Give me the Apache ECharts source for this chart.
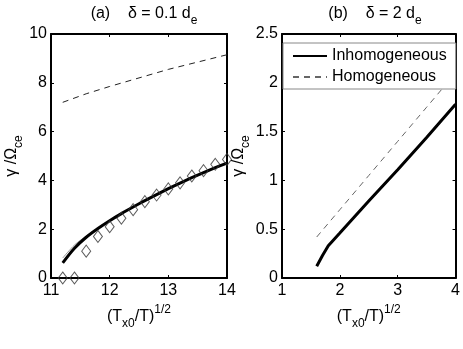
<!DOCTYPE html>
<html><head><meta charset="utf-8">
<script src="https://cdn.jsdelivr.net/npm/echarts@6/dist/echarts.min.js"></script>
<style>html,body{margin:0;padding:0;background:#fff}#c{width:463px;height:349px}</style>
</head><body><div id="c"></div>
<script>
// Panel (a): delta = 0.1 d_e
const xA = [11.2, 11.4, 11.6, 11.8, 12.0, 12.2, 12.4, 12.6, 12.8, 13.0, 13.2, 13.4, 13.6, 13.8, 14.0];
const inhomA = [0.62, 1.22, 1.67, 2.03, 2.35, 2.64, 2.91, 3.17, 3.42, 3.66, 3.89, 4.11, 4.32, 4.52, 4.71];
const thinA = [0.82, 1.35, 1.72, 2.05, 2.36, 2.65, 2.91, 3.17, 3.42, 3.66, 3.89, 4.11, 4.32, 4.52, 4.71];
const diamondsA = [0, 0, 1.1, 1.7, 2.1, 2.45, 2.8, 3.13, 3.4, 3.65, 3.9, 4.18, 4.4, 4.66, 4.86];
const xHomA = [11.2, 11.6, 12.0, 12.5, 13.0, 13.5, 14.0];
const homA = [7.2, 7.55, 7.85, 8.2, 8.55, 8.85, 9.15];
// Panel (b): delta = 2 d_e
const xB = [1.6, 1.7, 1.8, 2.0, 2.5, 3.0, 3.5, 4.0];
const inhomB = [0.12, 0.23, 0.33, 0.46, 0.79, 1.11, 1.44, 1.78];
const xHomB = [1.6, 2.0, 2.5, 3.0, 3.5, 4.0];
const homB = [0.42, 0.7, 1.05, 1.4, 1.75, 2.1];
const yTicksA = [0, 2, 4, 6, 8, 10];
const yTicksB = ['0', '0.5', '1', '1.5', '2', '2.5'];

const FONT = 'Liberation Sans, Arial, sans-serif';
const zip = (xs, ys) => xs.map((x, i) => [x, ys[i]]);
const rich = {
  n: {fontSize: 16, fontFamily: FONT, color: '#000', fontWeight: 'normal', lineHeight: 26, verticalAlign: 'middle'},
  sub: {fontSize: 12, fontFamily: FONT, color: '#000', fontWeight: 'normal', lineHeight: 26, verticalAlign: 'bottom'},
  sup: {fontSize: 12, fontFamily: FONT, color: '#000', fontWeight: 'normal', lineHeight: 26, verticalAlign: 'top'}
};
const xName = '{n|(T}{sub|x0}{n|/T)}{sup|1/2}';
const yName = '{n|γ /Ω}{sub|ce}';

function xAxisDef(grid, min, max, pos) {
  const bottom = pos === 'bottom';
  return {
    type: 'value', gridIndex: grid, min: min, max: max, interval: 1, position: pos,
    axisLine: {show: true, onZero: false, lineStyle: {color: '#000', width: 2}},
    axisTick: {show: true, inside: true, length: 3, lineStyle: {color: '#000', width: 1}},
    axisLabel: {show: bottom, color: '#000', fontSize: 16, fontFamily: FONT, margin: 5},
    splitLine: {show: false},
    name: bottom ? xName : '', nameLocation: 'middle', nameGap: 24,
    nameTextStyle: {rich: rich}
  };
}
function yAxisDef(grid, max, interval, pos, labels) {
  const left = pos === 'left';
  return {
    type: 'value', gridIndex: grid, min: 0, max: max, interval: interval, position: pos,
    axisLine: {show: true, onZero: false, lineStyle: {color: '#000', width: 2}},
    axisTick: {show: true, inside: true, length: 3, lineStyle: {color: '#000', width: 1}},
    axisLabel: {show: left, color: '#000', fontSize: 16, fontFamily: FONT, margin: 4,
      formatter: labels ? (v => { const i = Math.round(v / interval); return labels[i] !== undefined ? String(labels[i]) : ''; }) : null},
    splitLine: {show: false},
    name: left ? yName : '', nameLocation: 'middle', nameGap: 26, nameRotate: 90,
    nameTextStyle: {rich: rich}
  };
}

const chart = echarts.init(document.getElementById('c'), null, {renderer: 'canvas'});
chart.setOption({
  animation: false,
  backgroundColor: '#fff',
  title: [
    {text: '{n|(a)    δ = 0.1 d}{sub|e}', left: 139, top: -4, textAlign: 'center',
      textStyle: {rich: rich, fontWeight: 'normal'}},
    {text: '{n|(b)    δ = 2 d}{sub|e}', left: 370, top: -4, textAlign: 'center',
      textStyle: {rich: rich, fontWeight: 'normal'}}
  ],
  grid: [
    {left: 51, top: 34, width: 176, height: 244},
    {left: 282, top: 34, width: 175, height: 244}
  ],
  xAxis: [
    xAxisDef(0, 11, 14, 'bottom'), xAxisDef(0, 11, 14, 'top'),
    xAxisDef(1, 1, 4, 'bottom'), xAxisDef(1, 1, 4, 'top')
  ],
  yAxis: [
    yAxisDef(0, 10, 2, 'left', yTicksA), yAxisDef(0, 10, 2, 'right', null),
    yAxisDef(1, 2.5, 0.5, 'left', yTicksB), yAxisDef(1, 2.5, 0.5, 'right', null)
  ],
  legend: {
    data: ['Inhomogeneous', 'Homogeneous'],
    orient: 'vertical', left: 283, top: 43,
    padding: [5, 9, 4, 9], itemGap: 5, itemWidth: 34, itemHeight: 14,
    itemStyle: {color: 'rgba(0,0,0,0)', borderColor: 'rgba(0,0,0,0)', borderWidth: 0},
    backgroundColor: '#fff', borderColor: '#888', borderWidth: 1,
    textStyle: {fontSize: 16, fontFamily: FONT, color: '#000'},
    selectedMode: false
  },
  series: [
    {name: 'homA', type: 'line', xAxisIndex: 0, yAxisIndex: 0, data: zip(xHomA, homA),
      symbol: 'none', lineStyle: {color: '#222', width: 1, type: [6, 5]}},
    {name: 'thinA', type: 'line', xAxisIndex: 0, yAxisIndex: 0, data: zip(xA, thinA),
      symbol: 'none', smooth: 0.3, lineStyle: {color: '#999', width: 1}},
    {name: 'inhomA', type: 'line', xAxisIndex: 0, yAxisIndex: 0, data: zip(xA, inhomA),
      symbol: 'none', smooth: 0.3, lineStyle: {color: '#000', width: 3}},
    {name: 'diamonds', type: 'scatter', xAxisIndex: 0, yAxisIndex: 0, data: zip(xA, diamondsA),
      symbol: 'diamond', symbolSize: [9, 12], clip: false, z: 5,
      itemStyle: {color: 'rgba(255,255,255,0)', borderColor: '#333', borderWidth: 1}},
    {name: 'Homogeneous', type: 'line', xAxisIndex: 2, yAxisIndex: 2, data: zip(xHomB, homB),
      symbol: 'none', lineStyle: {color: '#666', width: 1, type: [6, 5]}, itemStyle: {color: '#666'}},
    {name: 'Inhomogeneous', type: 'line', xAxisIndex: 2, yAxisIndex: 2, data: zip(xB, inhomB),
      symbol: 'none', lineStyle: {color: '#000', width: 3}, itemStyle: {color: '#000'}}
  ]
});
</script>
</body></html>
